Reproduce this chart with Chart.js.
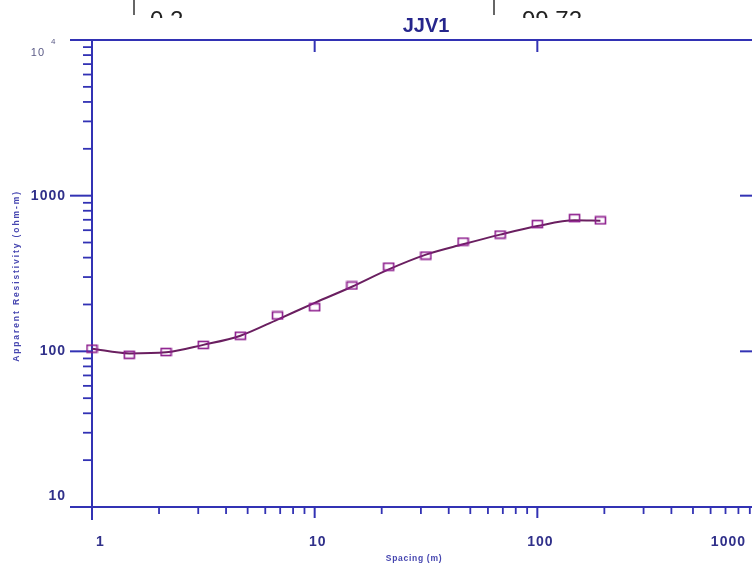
<!DOCTYPE html>
<html>
<head>
<meta charset="utf-8">
<script src="https://cdn.jsdelivr.net/npm/chart.js@4/dist/chart.umd.min.js"></script>
<style>
  html, body { margin: 0; padding: 0; background: #fff; overflow: hidden; width: 752px; height: 568px; }
  #wrap { width: 760px; height: 568px; }
  canvas { display: block; }
</style>
</head>
<body>
<!-- the plot box runs a few pixels past the right edge of the page -->
<div id="wrap"><canvas id="c" width="760" height="568"></canvas></div>
<script>
// Electrode spacing (m) and apparent resistivity (ohm-m)
const spacing     = [1, 1.47, 2.15, 3.16, 4.64, 6.81, 10, 14.7, 21.5, 31.6, 46.4, 68.1, 100, 147, 192];
const rhoObserved = [104, 95, 99, 110, 126, 170, 192, 265, 350, 412, 507, 562, 657, 718, 694];
const rhoModel    = [104, 97, 98.5, 110, 126, 160, 205, 260, 336, 418, 487, 562, 638, 694, 690];

// Axis decades
const xMajorTicks = [1, 10, 100, 1000];
const yMajorTicks = [10, 100, 1000, 10000];

// Header cells of the sounding table above the plot
const headerCells = ['0.2', '99.72'];

const PAGE_WIDTH  = 752;
const AXIS_COLOR  = '#3232b4';
const LABEL_COLOR = '#30308a';
const FONT = '"Liberation Sans", Arial, sans-serif';

// Hollow rectangular marker for the measured points
const marker = document.createElement('canvas');
marker.width = 13; marker.height = 10;
(function () {
  const m = marker.getContext('2d');
  m.strokeStyle = '#8c1c8c';
  m.lineWidth = 1.6;
  m.strokeRect(1.5, 1.5, 10, 7);
})();

const header = {
  id: 'header',
  beforeDraw(chart) {
    const { ctx } = chart;
    ctx.save();
    ctx.beginPath();
    ctx.rect(0, 0, chart.width, 18);
    ctx.clip();
    ctx.fillStyle = '#222';
    ctx.font = '24px ' + FONT;
    ctx.textBaseline = 'top';
    ctx.textAlign = 'left';
    ctx.fillText(headerCells[0], 150, 9);
    ctx.fillText(headerCells[1], 522, 9);
    ctx.strokeStyle = '#333';
    ctx.lineWidth = 1.5;
    [134, 494].forEach(px => {
      ctx.beginPath(); ctx.moveTo(px, 0); ctx.lineTo(px, 15); ctx.stroke();
    });
    ctx.restore();
  }
};

const logAxes = {
  id: 'logAxes',
  beforeDatasetsDraw(chart) {
    const { ctx, chartArea: a, scales: { x, y } } = chart;
    ctx.save();
    ctx.strokeStyle = AXIS_COLOR;
    ctx.lineWidth = 2;
    const seg = (x1, y1, x2, y2) => { ctx.beginPath(); ctx.moveTo(x1, y1); ctx.lineTo(x2, y2); ctx.stroke(); };

    // frame
    seg(a.left - 22, a.top, a.right, a.top);
    seg(a.left - 22, a.bottom, a.right, a.bottom);
    seg(a.left, a.top, a.left, a.bottom + 13);
    seg(a.right, a.top, a.right, a.bottom);

    // minor ticks
    ctx.lineWidth = 1.8;
    xMajorTicks.slice(0, -1).forEach(d => {
      for (let m = 2; m <= 9; m++) {
        const px = x.getPixelForValue(d * m);
        seg(px, a.bottom, px, a.bottom + 7);
      }
    });
    yMajorTicks.slice(0, -1).forEach(d => {
      for (let m = 2; m <= 9; m++) {
        const py = y.getPixelForValue(d * m);
        seg(a.left - 9, py, a.left, py);
      }
    });

    // major ticks
    ctx.lineWidth = 2;
    xMajorTicks.slice(1).forEach(v => {
      const px = x.getPixelForValue(v);
      seg(px, a.bottom, px, a.bottom + 11);
      seg(px, a.top, px, a.top + 12);
    });
    yMajorTicks.slice(1, -1).forEach(v => {
      const py = y.getPixelForValue(v);
      seg(a.left - 22, py, a.left, py);
      seg(a.right - 20, py, a.right, py);
    });
    ctx.restore();
  },
  afterDraw(chart) {
    const { ctx, chartArea: a, scales: { x, y } } = chart;
    ctx.save();
    ctx.fillStyle = LABEL_COLOR;
    ctx.letterSpacing = '1px';

    // y tick labels
    yMajorTicks.forEach(v => {
      const py = y.getPixelForValue(v);
      const exp = Math.round(Math.log10(v));
      if (exp >= 4) {
        ctx.fillStyle = '#5a5a86';
        ctx.font = '11px ' + FONT;
        ctx.textAlign = 'right';
        ctx.textBaseline = 'middle';
        ctx.fillText('10', a.left - 47, py + 13);
        ctx.font = '8px ' + FONT;
        ctx.textAlign = 'left';
        ctx.fillText(String(exp), a.left - 41, py + 2);
        ctx.fillStyle = LABEL_COLOR;
      } else {
        ctx.font = 'bold 14px ' + FONT;
        ctx.textAlign = 'right';
        ctx.textBaseline = 'middle';
        ctx.fillText(String(v), a.left - 26, Math.min(py, a.bottom - 11));
      }
    });

    // x tick labels, kept inside the page
    ctx.font = 'bold 14px ' + FONT;
    ctx.textAlign = 'center';
    ctx.textBaseline = 'middle';
    xMajorTicks.forEach(v => {
      const label = String(v);
      const w = ctx.measureText(label).width;
      let cx = x.getPixelForValue(v) + 3;
      cx = Math.max(cx, a.left + 4 + w / 2);
      cx = Math.min(cx, PAGE_WIDTH - 6 - w / 2);
      ctx.fillText(label, cx, 542);
    });

    // axis titles
    ctx.fillStyle = '#4646b0';
    ctx.font = 'bold 8.5px ' + FONT;
    ctx.letterSpacing = '0.7px';
    ctx.fillText('Spacing (m)', 414, 559);

    ctx.font = 'bold 8.5px ' + FONT;
    ctx.letterSpacing = '1.9px';
    ctx.translate(17, 276);
    ctx.rotate(-Math.PI / 2);
    ctx.fillText('Apparent Resistivity (ohm-m)', 0, 0);
    ctx.restore();
  }
};

new Chart(document.getElementById('c'), {
  type: 'scatter',
  data: {
    datasets: [
      {
        label: 'Measured',
        data: spacing.map((s, i) => ({ x: s, y: rhoObserved[i] })),
        pointStyle: marker,
        pointRadius: 6,
        showLine: false,
        clip: false,
        order: 0
      },
      {
        label: 'Model',
        data: spacing.map((s, i) => ({ x: s, y: rhoModel[i] })),
        showLine: true,
        borderColor: '#6a1f60',
        borderWidth: 2,
        pointRadius: 0,
        cubicInterpolationMode: 'monotone',
        clip: false,
        order: 1
      }
    ]
  },
  options: {
    responsive: false,
    animation: false,
    devicePixelRatio: 1,
    layout: { autoPadding: false, padding: { left: 92, right: 0, top: 0, bottom: 61 } },
    plugins: {
      legend: { display: false },
      tooltip: { enabled: false },
      title: {
        display: true,
        text: 'JJV1',
        fullSize: false,
        color: '#26268c',
        font: { family: FONT, size: 20, weight: 'bold' },
        padding: { top: 14, bottom: 2 }
      }
    },
    scales: {
      x: { type: 'logarithmic', min: 1, max: 1000, display: false },
      y: { type: 'logarithmic', min: 10, max: 10000, display: false }
    }
  },
  plugins: [header, logAxes]
});
</script>
</body>
</html>
